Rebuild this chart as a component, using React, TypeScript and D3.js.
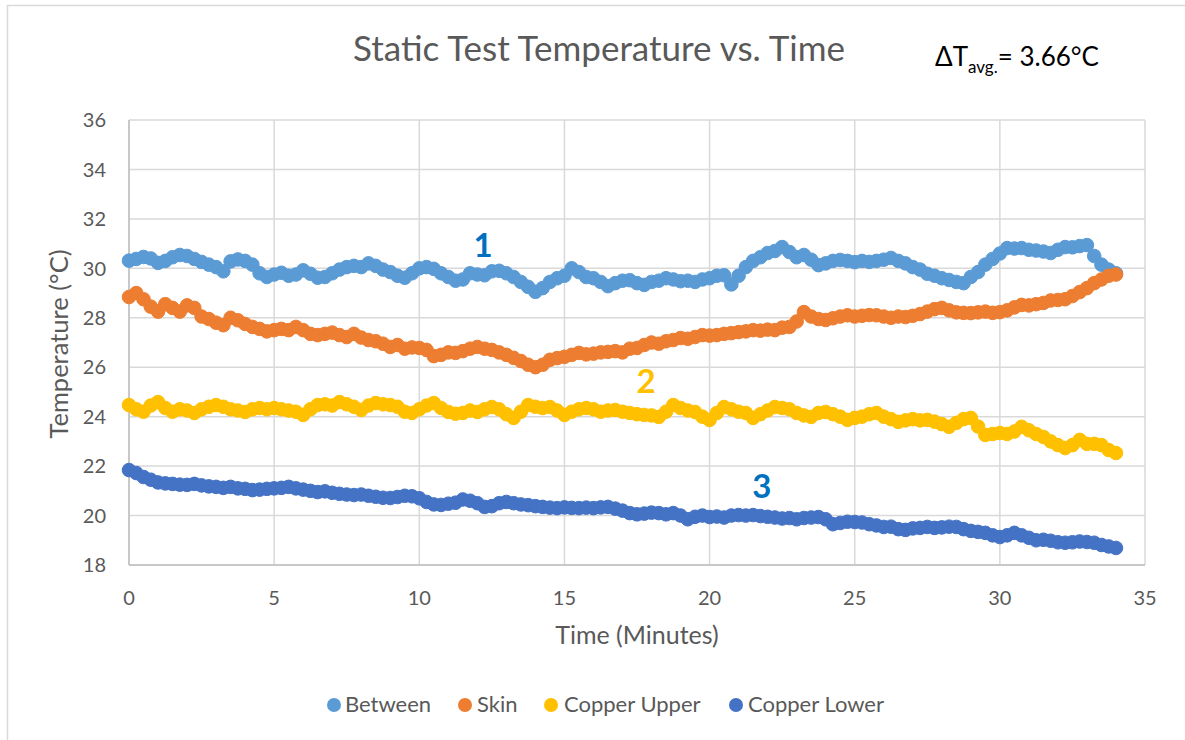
import React from "react";
import * as d3 from "d3";

// ---- data ----
const TIME_STEP = 0.25; // minutes between samples
const X_TICKS = [0, 5, 10, 15, 20, 25, 30, 35];
const Y_TICKS = [18, 20, 22, 24, 26, 28, 30, 32, 34, 36];
const SERIES_NAMES = ["Between", "Skin", "Copper Upper", "Copper Lower"];
const SERIES_COLORS = ["#5B9BD5", "#ED7D31", "#FFC000", "#4472C4"];

const BETWEEN = [
  30.31, 30.38, 30.46, 30.40, 30.22, 30.30, 30.45, 30.54,
  30.50, 30.38, 30.26, 30.15, 30.05, 29.88, 30.28, 30.36,
  30.30, 30.15, 29.80, 29.65, 29.75, 29.82, 29.70, 29.75,
  29.92, 29.78, 29.62, 29.65, 29.80, 29.95, 30.05, 30.10,
  30.05, 30.20, 30.10, 29.95, 29.85, 29.70, 29.62, 29.80,
  30.00, 30.05, 29.98, 29.80, 29.65, 29.50, 29.55, 29.80,
  29.75, 29.72, 29.88, 29.90, 29.80, 29.65, 29.45, 29.25,
  29.05, 29.20, 29.45, 29.60, 29.70, 30.00, 29.85, 29.65,
  29.60, 29.45, 29.28, 29.40, 29.50, 29.52, 29.40, 29.33,
  29.45, 29.50, 29.60, 29.55, 29.48, 29.50, 29.45, 29.55,
  29.60, 29.70, 29.72, 29.35, 29.70, 30.05, 30.30, 30.45,
  30.62, 30.70, 30.86, 30.66, 30.45, 30.54, 30.35, 30.13,
  30.20, 30.30, 30.34, 30.30, 30.25, 30.30, 30.26, 30.30,
  30.35, 30.42, 30.30, 30.20, 30.05, 29.95, 29.78, 29.70,
  29.60, 29.53, 29.45, 29.40, 29.65, 29.85, 30.15, 30.38,
  30.60, 30.82, 30.80, 30.82, 30.75, 30.72, 30.68, 30.62,
  30.75, 30.86, 30.85, 30.90, 30.94, 30.50, 30.15, 29.95,
  29.80,
];

const SKIN = [
  28.84, 29.00, 28.75, 28.45, 28.25, 28.55, 28.40, 28.25,
  28.50, 28.40, 28.05, 27.95, 27.80, 27.70, 28.00, 27.90,
  27.75, 27.63, 27.55, 27.45, 27.50, 27.55, 27.50, 27.63,
  27.50, 27.35, 27.30, 27.35, 27.40, 27.30, 27.22, 27.35,
  27.20, 27.10, 27.05, 26.95, 26.82, 26.90, 26.75, 26.80,
  26.78, 26.70, 26.45, 26.50, 26.60, 26.58, 26.65, 26.75,
  26.82, 26.75, 26.70, 26.60, 26.50, 26.38, 26.25, 26.10,
  26.00, 26.10, 26.30, 26.37, 26.42, 26.50, 26.58, 26.52,
  26.55, 26.60, 26.62, 26.65, 26.60, 26.75, 26.78, 26.90,
  27.00, 26.95, 27.05, 27.10, 27.18, 27.15, 27.22, 27.30,
  27.28, 27.30, 27.35, 27.38, 27.42, 27.45, 27.50, 27.48,
  27.52, 27.50, 27.60, 27.63, 27.85, 28.23, 28.05, 27.95,
  27.91, 27.98, 28.05, 28.10, 28.05, 28.08, 28.11, 28.10,
  28.05, 28.00, 28.05, 28.03, 28.08, 28.15, 28.25, 28.35,
  28.40, 28.30, 28.22, 28.20, 28.19, 28.22, 28.25, 28.20,
  28.23, 28.30, 28.42, 28.52, 28.50, 28.55, 28.60, 28.70,
  28.72, 28.75, 28.88, 29.04, 29.20, 29.40, 29.55, 29.70,
  29.75,
];

const COPPER_UPPER = [
  24.47, 24.30, 24.20, 24.45, 24.59, 24.35, 24.20, 24.30,
  24.25, 24.15, 24.30, 24.40, 24.47, 24.40, 24.30, 24.25,
  24.19, 24.30, 24.35, 24.30, 24.35, 24.30, 24.25, 24.20,
  24.07, 24.30, 24.47, 24.50, 24.45, 24.59, 24.50, 24.40,
  24.27, 24.45, 24.55, 24.50, 24.47, 24.40, 24.20, 24.15,
  24.30, 24.45, 24.55, 24.35, 24.19, 24.12, 24.15, 24.25,
  24.19, 24.30, 24.39, 24.30, 24.10, 23.95, 24.20, 24.47,
  24.40, 24.35, 24.39, 24.25, 24.07, 24.20, 24.30, 24.35,
  24.30, 24.20, 24.25, 24.27, 24.20, 24.15, 24.10, 24.07,
  24.05, 23.99, 24.20, 24.47, 24.35, 24.25, 24.19, 24.00,
  23.87, 24.15, 24.39, 24.30, 24.20, 24.15, 23.95, 24.10,
  24.25, 24.39, 24.35, 24.30, 24.15, 24.05, 23.99, 24.15,
  24.19, 24.10, 24.00, 23.87, 23.95, 24.00, 24.10, 24.15,
  24.00, 23.90, 23.79, 23.85, 23.90, 23.85, 23.87, 23.80,
  23.70, 23.59, 23.75, 23.90, 23.95, 23.60, 23.26, 23.30,
  23.34, 23.30, 23.40, 23.59, 23.45, 23.30, 23.18, 23.00,
  22.85, 22.73, 22.85, 23.06, 22.90, 22.90, 22.85, 22.65,
  22.53,
];

const COPPER_LOWER = [
  21.84, 21.72, 21.56, 21.45, 21.34, 21.30, 21.28, 21.25,
  21.24, 21.28, 21.22, 21.18, 21.16, 21.12, 21.16, 21.10,
  21.08, 21.03, 21.05, 21.08, 21.10, 21.12, 21.16, 21.10,
  21.05, 21.00, 20.95, 20.98, 20.92, 20.88, 20.85, 20.83,
  20.85, 20.80, 20.76, 20.72, 20.71, 20.75, 20.80, 20.78,
  20.70, 20.55, 20.45, 20.43, 20.48, 20.52, 20.65, 20.60,
  20.50, 20.35, 20.38, 20.50, 20.55, 20.50, 20.45, 20.42,
  20.38, 20.35, 20.32, 20.30, 20.33, 20.31, 20.30, 20.32,
  20.30, 20.33, 20.35, 20.28, 20.20, 20.10, 20.05, 20.08,
  20.12, 20.10, 20.05, 20.10, 20.00, 19.85, 19.95, 20.00,
  19.94, 19.96, 19.92, 20.00, 20.02, 20.00, 20.02, 19.98,
  19.95, 19.92, 19.88, 19.90, 19.85, 19.90, 19.92, 19.94,
  19.85, 19.65, 19.70, 19.75, 19.74, 19.72, 19.65, 19.60,
  19.54, 19.55, 19.45, 19.42, 19.48, 19.50, 19.54, 19.50,
  19.52, 19.55, 19.54, 19.45, 19.38, 19.34, 19.30, 19.20,
  19.13, 19.20, 19.30, 19.20, 19.10, 19.00, 19.02, 18.98,
  18.92, 18.90, 18.92, 18.95, 18.93, 18.90, 18.81, 18.75,
  18.69,
];

const SERIES_VALUES = [BETWEEN, SKIN, COPPER_UPPER, COPPER_LOWER];

// Label positions in data coordinates (time, temperature of baseline)
const ANNOTATIONS = [
  { text: "1", t: 12.2, v: 30.46, color: "#0070C0" },
  { text: "2", t: 17.81, v: 24.96, color: "#FFC000" },
  { text: "3", t: 21.8, v: 20.71, color: "#0070C0" },
];

// ---- layout ----
const W = 1185;
const H = 740;
const PLOT = { left: 129, right: 1145, top: 120, bottom: 565 };
const FONT = "Lato, 'Open Sans', sans-serif";
const TEXT = "#595959";

export default function App() {
  const x = d3.scaleLinear().domain([0, 35]).range([PLOT.left, PLOT.right]);
  const y = d3.scaleLinear().domain([18, 36]).range([PLOT.bottom, PLOT.top]);

  const legendItems = [
    { mx: 334, tx: 345 },
    { mx: 465, tx: 477 },
    { mx: 551, tx: 564 },
    { mx: 736, tx: 748 },
  ];

  return (
    <svg
      width={W}
      height={H}
      style={{ position: "absolute", left: 0, top: 0, background: "#fff" }}
      fontFamily={FONT}
    >
      <rect x={7.5} y={5.5} width={1300} height={900} fill="#fff" stroke="#D9D9D9" strokeWidth={1.5} />

      {/* title */}
      <text x={599} y={61} textAnchor="middle" fontSize={35} fill={TEXT}>
        Static Test Temperature vs. Time
      </text>

      {/* delta T */}
      <text x={935} y={66} fontSize={26} fill="#000">
        ΔT
        <tspan fontSize={17} dy={7}>avg.</tspan>
        <tspan fontSize={26} dy={-7}>= 3.66°C</tspan>
      </text>

      {/* gridlines */}
      {Y_TICKS.map((t) => (
        <line key={"gy" + t} x1={PLOT.left} x2={PLOT.right} y1={y(t)} y2={y(t)} stroke="#D9D9D9" strokeWidth={1.5} />
      ))}
      {X_TICKS.map((t) => (
        <line key={"gx" + t} x1={x(t)} x2={x(t)} y1={PLOT.top} y2={PLOT.bottom} stroke="#D9D9D9" strokeWidth={1.5} />
      ))}
      {/* axes */}
      <line x1={PLOT.left} x2={PLOT.left} y1={PLOT.top} y2={PLOT.bottom} stroke="#BFBFBF" strokeWidth={1.5} />
      <line x1={PLOT.left} x2={PLOT.right} y1={PLOT.bottom} y2={PLOT.bottom} stroke="#BFBFBF" strokeWidth={1.5} />

      {/* tick labels */}
      {Y_TICKS.map((t) => (
        <text key={"ly" + t} x={106} y={y(t)} dy="0.36em" textAnchor="end" fontSize={20} fill={TEXT}>
          {t}
        </text>
      ))}
      {X_TICKS.map((t) => (
        <text key={"lx" + t} x={x(t)} y={605} textAnchor="middle" fontSize={20} fill={TEXT}>
          {t}
        </text>
      ))}

      {/* axis titles */}
      <text x={637} y={644} textAnchor="middle" fontSize={25} fill={TEXT}>
        Time (Minutes)
      </text>
      <text
        transform={`translate(68,344) rotate(-90)`}
        textAnchor="middle"
        fontSize={25.5}
        fill={TEXT}
      >
        Temperature (°C)
      </text>

      {/* series */}
      {SERIES_VALUES.map((vals, si) => (
        <g key={"s" + si} fill={SERIES_COLORS[si]} stroke={SERIES_COLORS[si]} strokeWidth={1}>
          {vals.map((v, i) => (
            <circle key={i} cx={x(i * TIME_STEP)} cy={y(v)} r={6.8} />
          ))}
        </g>
      ))}

      {/* annotations */}
      {ANNOTATIONS.map((a) => (
        <text key={a.text} x={x(a.t)} y={y(a.v)} textAnchor="middle" fontSize={33} fontWeight="bold" fill={a.color}>
          {a.text}
        </text>
      ))}

      {/* legend */}
      {SERIES_NAMES.map((name, i) => (
        <g key={"lg" + name}>
          <circle cx={legendItems[i].mx} cy={705} r={7} fill={SERIES_COLORS[i]} />
          <text x={legendItems[i].tx} y={712} fontSize={22} fill={TEXT}>
            {name}
          </text>
        </g>
      ))}
    </svg>
  );
}
